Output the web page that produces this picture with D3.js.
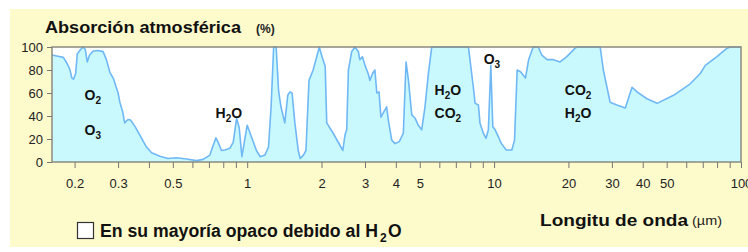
<!DOCTYPE html>
<html>
<head>
<meta charset="utf-8">
<script src="https://cdn.jsdelivr.net/npm/d3@7"></script>
<style>
  body { margin: 0; background: #fff; }
  svg text { font-family: "Liberation Sans", Arial, sans-serif; }
  .narrow { font-family: "Liberation Sans Narrow", "Arial Narrow", "Liberation Sans", sans-serif; }
</style>
</head>
<body>
<svg id="chart" width="748" height="252"></svg>
<script>
// Wavelength (µm) and atmospheric absorption (%)
const wavelength = [
  0.162, 0.171, 0.180, 0.185, 0.191, 0.195, 0.198, 0.202, 0.205, 0.210,
  0.216, 0.221, 0.225, 0.230, 0.238, 0.249, 0.261, 0.269, 0.278, 0.288,
  0.300, 0.305, 0.313, 0.319, 0.329, 0.337, 0.351, 0.367, 0.391, 0.410,
  0.443, 0.478, 0.517, 0.568, 0.624, 0.663, 0.706, 0.747, 0.763, 0.787,
  0.812, 0.851, 0.878, 0.906, 0.928, 0.952, 1.00, 1.04, 1.09, 1.13,
  1.18, 1.22, 1.25, 1.28, 1.31, 1.34, 1.37, 1.42, 1.46, 1.49,
  1.52, 1.56, 1.61, 1.64, 1.69, 1.73, 1.78, 1.85, 1.96, 2.00,
  2.07, 2.10, 2.23, 2.44, 2.49, 2.53, 2.57, 2.65, 2.73, 2.82,
  2.86, 2.93, 3.00, 3.09, 3.14, 3.22, 3.29, 3.35, 3.42, 3.48,
  3.67, 3.73, 3.85, 3.97, 4.13, 4.29, 4.40, 4.50, 4.64, 4.79,
  4.93, 5.09, 5.25, 5.42, 5.59, 7.87, 8.05, 8.24, 8.38, 8.64,
  8.77, 9.05, 9.28, 9.48, 9.70, 9.88, 10.1, 10.4, 10.7, 11.2,
  11.8, 12.1, 12.4, 12.8, 13.4, 13.8, 14.4, 15.1, 15.6, 16.4,
  17.4, 18.5, 19.7, 21.3, 21.7, 26.9, 27.7, 29.5, 31.4, 34.0,
  36.2, 37.9, 41.6, 45.7, 53.3, 62.3, 68.4, 71.7, 79.9, 87.8,
  90.5, 100
];
const absorption = [
  93, 92, 91, 87, 81, 73, 72, 77, 94, 97,
  100, 98, 87, 93, 96.5, 97, 96, 89, 78, 72,
  60, 52, 44, 34, 37, 36.5, 31, 23.5, 13, 8,
  5, 3, 3.7, 2.6, 1.2, 2.3, 6, 21, 17, 10,
  10.4, 12, 17, 38, 30, 4.6, 32, 22, 10, 4.6,
  6, 13, 48, 100, 100, 62, 48, 34, 58, 61,
  60, 34, 10, 3, 6, 10, 71, 80, 100, 93,
  83, 34, 25, 10, 23.5, 28, 80, 96, 100, 96,
  89, 91.6, 84, 77, 71, 77, 80, 60, 61, 39,
  48, 36.5, 19, 16, 17.7, 25, 87, 71, 41, 38,
  32, 28, 48, 77, 100, 100, 83, 65, 51, 49.6,
  33.6, 25, 20.6, 28, 84, 30.7, 28, 22, 16, 10.4,
  10.4, 19, 80, 78.5, 73, 89, 100, 100, 93, 89,
  89, 87, 91.6, 99, 100, 100, 80, 52, 49.6, 47,
  65, 61, 55, 51, 58, 68, 77, 84, 91.6, 99,
  100, 100
];
const yTicks = [0, 20, 40, 60, 80, 100];
const xTickLabels = [0.2, 0.3, 0.5, 1, 2, 3, 4, 5, 10, 20, 30, 40, 50, 100];

// Gas labels: name, subscript, rest, wavelength and % at the label centre
const gasText = ["O", "O", "H", "H", "CO", "O", "CO", "H"];
const gasSub = ["2", "3", "2", "2", "2", "3", "2", "2"];
const gasTail = ["", "", "O", "O", "", "", "", "O"];
const gasWave = [0.237, 0.237, 0.843, 6.5, 6.5, 9.8, 21.9, 21.9];
const gasPct = [58, 28, 42.6, 62.6, 42.6, 90, 62.6, 42.6];

const svg = d3.select("#chart");
const margin = { top: 47, right: 7, bottom: 90, left: 52 },
    W = 748, H = 252,
    width = W - margin.left - margin.right,
    height = H - margin.top - margin.bottom;

// Yellow panel
svg.append("rect")
    .attr("x", 10).attr("y", 9)
    .attr("width", W - 10).attr("height", 238)
    .attr("fill", "#fdfacb");

const g = svg.append("g")
    .attr("transform", "translate(" + margin.left + "," + margin.top + ")");

const x = d3.scaleLog()
    .domain([0.162, 100])
    .range([0, width]);

const y = d3.scaleLinear()
    .domain([0, 100])
    .range([height, 0]);

g.append("rect")
    .attr("width", width).attr("height", height)
    .attr("fill", "#fff");

const pts = wavelength.map((w, i) => ({ w: w, v: absorption[i] }));

g.append("path")
    .datum(pts)
    .attr("fill", "#c9f9fd")
    .attr("d", d3.area().x(d => x(d.w)).y0(height).y1(d => y(d.v)));

g.append("path")
    .datum(pts)
    .attr("fill", "none")
    .attr("stroke", "#6fb8f5")
    .attr("stroke-width", 1.6)
    .attr("stroke-linejoin", "round")
    .attr("d", d3.line().x(d => x(d.w)).y(d => y(d.v)));

// Frame
g.append("rect")
    .attr("width", width).attr("height", height)
    .attr("fill", "none")
    .attr("stroke", "#8a8a80")
    .attr("stroke-width", 1.5);

// Y axis
const yAxis = g.append("g")
    .call(d3.axisLeft(y).tickValues(yTicks).tickSize(5).tickPadding(4));
yAxis.select(".domain").remove();
yAxis.selectAll("line").attr("stroke", "#777");
yAxis.selectAll("text")
    .attr("fill", "#222")
    .style("font-size", "13px")
    .style("font-family", "'Liberation Sans', Arial, sans-serif");

// X axis (log)
const allTicks = x.ticks().filter(t => t >= 0.2);
const xAxis = g.append("g")
    .attr("transform", "translate(0," + height + ")")
    .call(d3.axisBottom(x).tickValues(allTicks).tickSize(6).tickPadding(11)
        .tickFormat(d => xTickLabels.includes(+d.toPrecision(3)) ? d3.format("~g")(d) : ""));
xAxis.select(".domain").remove();
xAxis.selectAll("line").attr("stroke", "#777");
xAxis.selectAll("text")
    .attr("fill", "#222")
    .attr("class", "narrow")
    .style("font-size", "13px");

// Gas labels
gasText.forEach((t, i) => {
    const txt = g.append("text")
        .attr("x", x(gasWave[i]))
        .attr("y", y(gasPct[i]) + 5)
        .attr("text-anchor", "middle")
        .style("font-size", "14px")
        .style("font-weight", "bold")
        .attr("fill", "#111");
    txt.append("tspan").text(t);
    txt.append("tspan").attr("dy", 4).style("font-size", "10px").text(gasSub[i]);
    if (gasTail[i]) txt.append("tspan").attr("dy", -4).text(gasTail[i]);
});

// Title
svg.append("text")
    .attr("x", 45).attr("y", 33)
    .attr("textLength", 196).attr("lengthAdjust", "spacingAndGlyphs")
    .style("font-size", "17px").style("font-weight", "bold")
    .attr("fill", "#111")
    .text("Absorción atmosférica");
svg.append("text")
    .attr("x", 256).attr("y", 33)
    .style("font-size", "12px").style("font-weight", "bold")
    .attr("fill", "#222")
    .text("(%)");

// X axis title
svg.append("text")
    .attr("class", "narrow")
    .attr("x", 540).attr("y", 226)
    .attr("textLength", 148).attr("lengthAdjust", "spacingAndGlyphs")
    .style("font-size", "17px").style("font-weight", "bold")
    .attr("fill", "#111")
    .text("Longitu de onda");
svg.append("text")
    .attr("class", "narrow")
    .attr("x", 692).attr("y", 225)
    .attr("textLength", 30).attr("lengthAdjust", "spacingAndGlyphs")
    .style("font-size", "12px")
    .attr("fill", "#222")
    .text("(µm)");

// Legend
svg.append("rect")
    .attr("x", 77.5).attr("y", 222.5)
    .attr("width", 16).attr("height", 16)
    .attr("fill", "#fff")
    .attr("stroke", "#333").attr("stroke-width", 1.2);
svg.append("text")
    .attr("class", "narrow")
    .attr("x", 100).attr("y", 237)
    .attr("textLength", 278).attr("lengthAdjust", "spacingAndGlyphs")
    .style("font-size", "17.5px").style("font-weight", "bold")
    .attr("fill", "#111")
    .text("En su mayoría opaco debido al H");
svg.append("text")
    .attr("class", "narrow")
    .attr("x", 380).attr("y", 242)
    .style("font-size", "12px").style("font-weight", "bold")
    .attr("fill", "#111")
    .text("2");
svg.append("text")
    .attr("class", "narrow")
    .attr("x", 388).attr("y", 237)
    .style("font-size", "17.5px").style("font-weight", "bold")
    .attr("fill", "#111")
    .text("O");
</script>
</body>
</html>
